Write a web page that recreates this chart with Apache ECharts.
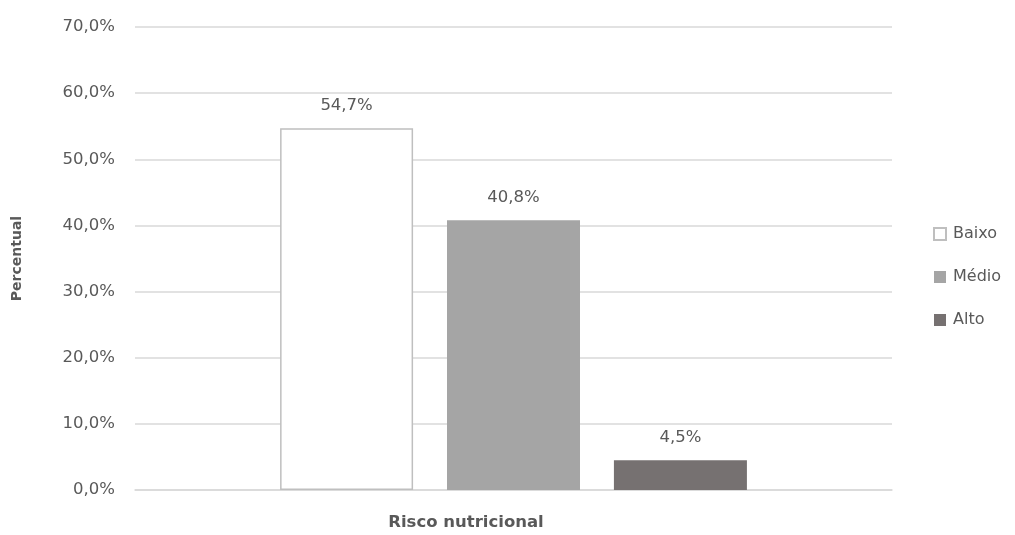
<!DOCTYPE html>
<html>
<head>
<meta charset="utf-8">
<script src="https://cdn.jsdelivr.net/npm/echarts@6/dist/echarts.min.js"></script>
<style>
    html, body { margin: 0; padding: 0; background: #fff; }
    #chart { width: 1015px; height: 535px; }
</style>
</head>
<body>
<div id="chart"></div>
<script>
const categories = ['Risco nutricional'];
const seriesNames = ['Baixo', 'Médio', 'Alto'];
const baixo = [54.7];
const medio = [40.8];
const alto = [4.5];

const fmt = v => v.toFixed(1).replace('.', ',') + '%';
const textColor = '#595959';
const font = 'DejaVu Sans';

function makeSeries(name, data, color, border) {
    return {
        name,
        type: 'bar',
        data,
        barWidth: 133,
        barGap: '25.5%',
        itemStyle: {
            color,
            borderColor: border,
            borderWidth: border ? 1.5 : 0
        },
        label: {
            show: true,
            position: 'top',
            distance: 14,
            color: textColor,
            fontFamily: font,
            fontSize: 16.5,
            formatter: p => fmt(p.value)
        }
    };
}

const chart = echarts.init(document.getElementById('chart'));
chart.setOption({
    animation: false,
    grid: { left: 135, right: 123, top: 27, bottom: 45, outerBoundsMode: 'none' },
    legend: {
        orient: 'vertical',
        left: 933,
        top: 226,
        padding: 0,
        icon: 'rect',
        itemWidth: 12,
        itemHeight: 12,
        itemGap: 27,
        textStyle: { color: textColor, fontFamily: font, fontSize: 16, padding: [0, 0, 0, 2] },
        data: seriesNames
    },
    xAxis: {
        type: 'category',
        data: categories,
        name: categories[0],
        nameLocation: 'middle',
        nameGap: 24,
        nameTextStyle: {
            color: textColor,
            fontFamily: font,
            fontSize: 16.5,
            fontWeight: 'bold',
            padding: [0, 95, 0, 0]
        },
        axisTick: { show: false },
        axisLine: { lineStyle: { color: '#d9d9d9', width: 1.5 } },
        axisLabel: { show: false }
    },
    yAxis: {
        type: 'value',
        min: 0,
        max: 70,
        interval: 10,
        name: 'Percentual',
        nameLocation: 'middle',
        nameGap: 111,
        nameTextStyle: { color: textColor, fontFamily: font, fontSize: 14, fontWeight: 'bold' },
        axisLabel: {
            color: textColor,
            fontFamily: font,
            fontSize: 16.5,
            margin: 20,
            formatter: v => fmt(v)
        },
        splitLine: { lineStyle: { color: '#d9d9d9', width: 1.5 } }
    },
    series: [
        makeSeries('Baixo', baixo, '#ffffff', '#bfbfbf'),
        makeSeries('Médio', medio, '#a5a5a5'),
        makeSeries('Alto', alto, '#767171')
    ]
});
</script>
</body>
</html>
